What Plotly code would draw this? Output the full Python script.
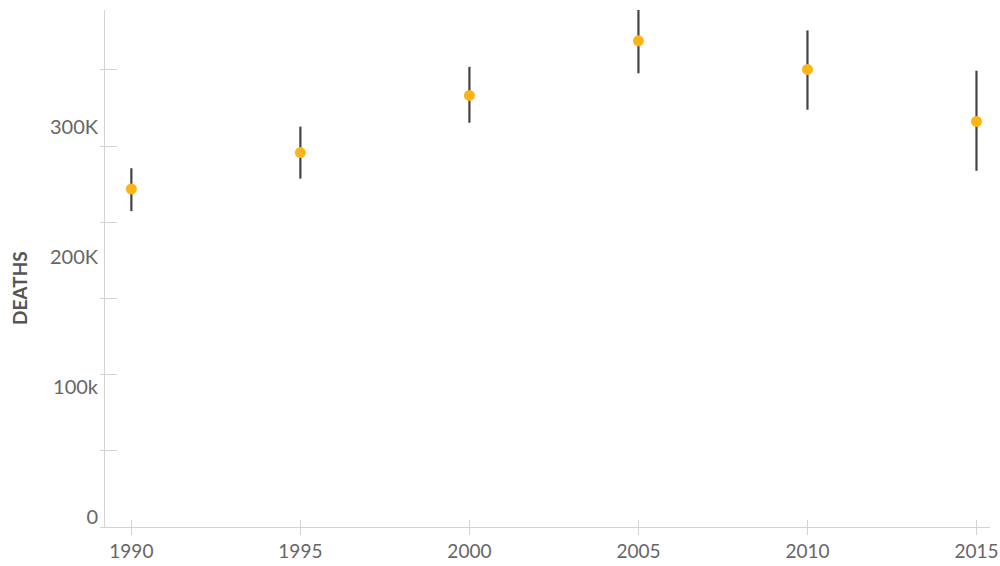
import plotly.graph_objects as go

# Data
years = [1990, 1995, 2000, 2005, 2010, 2015]
deaths = [260000, 288000, 332000, 374000, 352000, 312000]
upper = [276000, 308000, 354000, 399000, 382000, 351000]
lower = [243000, 268000, 311000, 349000, 321000, 274000]

y_label_vals = [0, 100000, 200000, 300000]
y_label_text = ["0", "100k", "200K", "300K"]
y_tick_marks = [0, 58600, 117200, 175800, 234400, 293000, 351600]
x_ticks = [1990, 1995, 2000, 2005, 2010, 2015]

X_RANGE = [1989.22, 2015.4]
Y_RANGE = [0, 397700]

err_plus = [u - d for u, d in zip(upper, deaths)]
err_minus = [d - l for d, l in zip(deaths, lower)]

FONT = "Lato, 'Open Sans', sans-serif"
LABEL_COLOR = "#666666"
AXIS_COLOR = "#d4d4d4"

fig = go.Figure()
fig.add_trace(go.Scatter(
    x=years, y=deaths, mode="markers",
    marker=dict(color="#FDB515", size=11, line=dict(width=0)),
    error_y=dict(type="data", array=err_plus, arrayminus=err_minus,
                 color="#444444", thickness=2.2, width=0),
    cliponaxis=False, showlegend=False, hoverinfo="x+y",
))
# helper (empty) traces so overlay axes get drawn
fig.add_trace(go.Scatter(x=[], y=[], xaxis="x2", yaxis="y", showlegend=False))
fig.add_trace(go.Scatter(x=[], y=[], xaxis="x", yaxis="y2", showlegend=False))
fig.add_trace(go.Scatter(x=[], y=[], xaxis="x", yaxis="y3", showlegend=False))

common = dict(automargin=False, showgrid=False, zeroline=False)

fig.update_layout(
    width=1000, height=566,
    margin=dict(l=105, r=10, t=10, b=39, autoexpand=False),
    paper_bgcolor="white", plot_bgcolor="white",
    font=dict(family=FONT, color=LABEL_COLOR, size=19),
    xaxis=dict(
        range=X_RANGE, tickvals=x_ticks, ticktext=[str(v) for v in x_ticks],
        showline=True, linecolor=AXIS_COLOR, linewidth=1,
        ticks="outside", ticklen=7, tickcolor=AXIS_COLOR, tickwidth=1,
        ticklabeloverflow="allow",
        tickfont=dict(family=FONT, size=19, color=LABEL_COLOR), **common,
    ),
    xaxis2=dict(
        overlaying="x", matches="x", anchor="y", range=X_RANGE,
        tickvals=x_ticks, showticklabels=False,
        showline=False, ticks="inside", ticklen=7, tickcolor=AXIS_COLOR, tickwidth=1,
        **common,
    ),
    yaxis=dict(
        range=Y_RANGE, tickvals=y_label_vals, ticktext=y_label_text,
        showline=True, linecolor=AXIS_COLOR, linewidth=1,
        ticks="", ticklabelshift=-10, ticklabelstandoff=2,
        ticklabeloverflow="allow",
        tickfont=dict(family=FONT, size=20, color=LABEL_COLOR), **common,
    ),
    yaxis2=dict(
        overlaying="y", matches="y", anchor="x", side="left", range=Y_RANGE,
        tickvals=y_tick_marks, showticklabels=False,
        showline=False, ticks="inside", ticklen=12, tickcolor=AXIS_COLOR, tickwidth=1,
        **common,
    ),
    yaxis3=dict(
        overlaying="y", matches="y", anchor="x", side="left", range=Y_RANGE,
        tickvals=y_tick_marks, showticklabels=False,
        showline=False, ticks="outside", ticklen=4, tickcolor=AXIS_COLOR, tickwidth=1,
        **common,
    ),
    annotations=[dict(
        text="<b>DEATHS</b>", textangle=-90, xref="paper", yref="paper",
        x=-86 / 885, y=(527 - 288) / 517, xanchor="center", yanchor="middle",
        showarrow=False, font=dict(family=FONT, size=19, color="#555555"),
    )],
)

fig.write_html(
    "out.html",
    config={"displayModeBar": False},
    post_script="document.body.style.margin='0';document.body.style.overflow='hidden';",
)
